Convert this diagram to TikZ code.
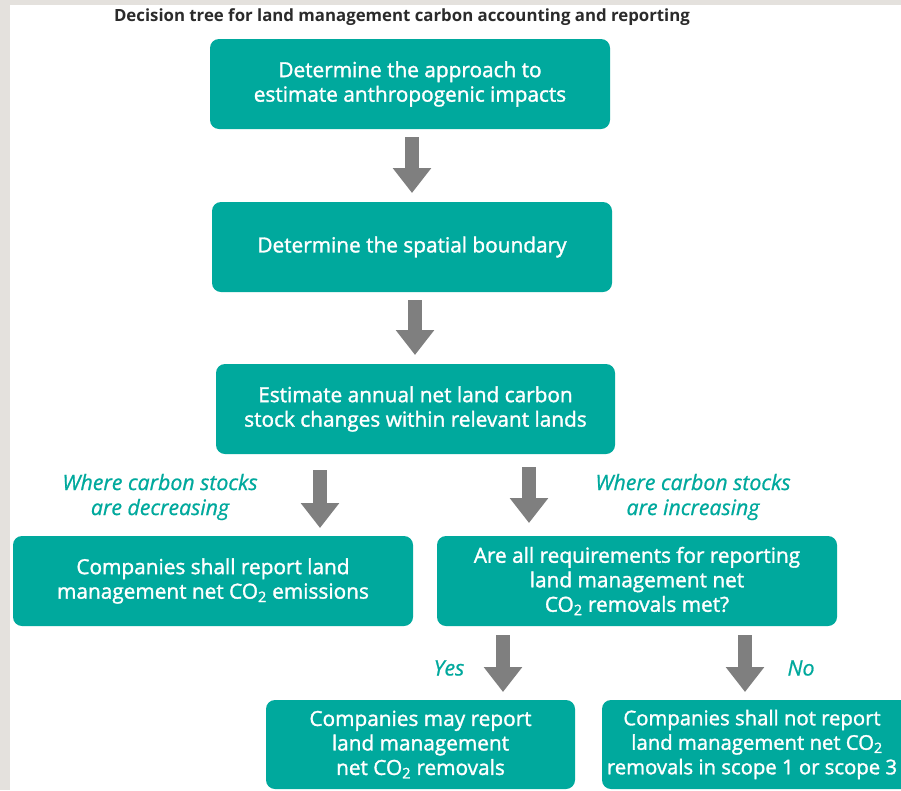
\documentclass[tikz,border=0pt]{standalone}
\usepackage{fontspec}
\setmainfont{Open Sans}
\newfontfamily\boxfont[FakeBold=1.5]{Open Sans}
\newfontfamily\labelfont[FakeBold=0.8]{Open Sans}
\usetikzlibrary{arrows.meta}
\definecolor{teal1}{HTML}{00A99D}
\definecolor{arrowgray}{HTML}{7F7F7F}
\definecolor{bggray}{HTML}{E4E1DD}
\definecolor{titlegray}{HTML}{2B2B2B}
\newcommand{\padr}{\hspace*{10pt}}
\tikzset{
  box/.style={rectangle, rounded corners=9pt, fill=teal1, text=white, align=center,
    inner sep=0pt, font=\boxfont\fontsize{20.8}{24.5}\selectfont},
  biglabel/.style={text=teal1, align=center, inner sep=0pt, font=\labelfont\fontsize{21.3}{25}\selectfont\itshape},
  bigarrow/.style={draw=arrowgray, line width=14pt, -{Triangle[width=37pt,length=25pt]}},
}
\begin{document}
\begin{tikzpicture}[x=1pt,y=-1pt]
\fill[bggray] (0,0) rectangle (901,790);
\fill[white] (10,5) rectangle (901,790);
\useasboundingbox (0,0) rectangle (901,790);
\clip (0,0) rectangle (901,790);

\node[text=titlegray, font=\fontsize{16.8}{18}\selectfont\bfseries, inner sep=0pt] (title) at (402,17)
  {Decision tree for land management carbon accounting and reporting};

\node[box, minimum width=400pt, minimum height=90pt] (b1) at (410,84)
  {Determine the approach to\\estimate anthropogenic impacts};
\node[box, minimum width=400pt, minimum height=90pt] (b2) at (412,247)
  {Determine the spatial boundary};
\node[box, minimum width=399pt, minimum height=90pt] (b3) at (415.5,409)
  {Estimate annual net land carbon\\stock changes within relevant lands};
\node[box, minimum width=400pt, minimum height=90pt] (lbox) at (213,581)
  {Companies shall report land\\management net CO\textsubscript{2} emissions};
\node[box, minimum width=400pt, minimum height=90pt] (rbox) at (637,581)
  {Are all requirements for reporting\\land management net\\CO\textsubscript{2} removals met?};
\node[box, minimum width=309pt, minimum height=89pt] (ybox) at (420.5,744.5)
  {Companies may report\\land management\\net CO\textsubscript{2} removals};
\node[box, minimum width=310pt, minimum height=89pt, font=\boxfont\fontsize{20.3}{24.5}\selectfont] (nbox) at (757,744.5)
  {Companies shall not report\padr\\land management net CO\textsubscript{2}\padr\\removals in scope 1 or scope 3\padr};

\node[biglabel] (dec) at (160,497) {Where carbon stocks\\are decreasing};
\node[biglabel] (inc) at (693,497) {Where carbon stocks\\are increasing};
\node[biglabel] (yes) at (449,668) {Yes};
\node[biglabel] (no) at (801,668) {No};

\coordinate (a1s) at (412,137); \coordinate (a1e) at (412,193);
\coordinate (a2s) at (415,300); \coordinate (a2e) at (415,355);
\coordinate (aLs) at (320,470); \coordinate (aLe) at (320,528);
\coordinate (aRs) at (529,467); \coordinate (aRe) at (529,523);
\coordinate (aYs) at (503,635); \coordinate (aYe) at (503,692);
\coordinate (aNs) at (745,635); \coordinate (aNe) at (745,692);

\draw[bigarrow] (a1s) -- (a1e);
\draw[bigarrow] (a2s) -- (a2e);
\draw[bigarrow] (aLs) -- (aLe);
\draw[bigarrow] (aRs) -- (aRe);
\draw[bigarrow] (aYs) -- (aYe);
\draw[bigarrow] (aNs) -- (aNe);
\end{tikzpicture}
\end{document}
